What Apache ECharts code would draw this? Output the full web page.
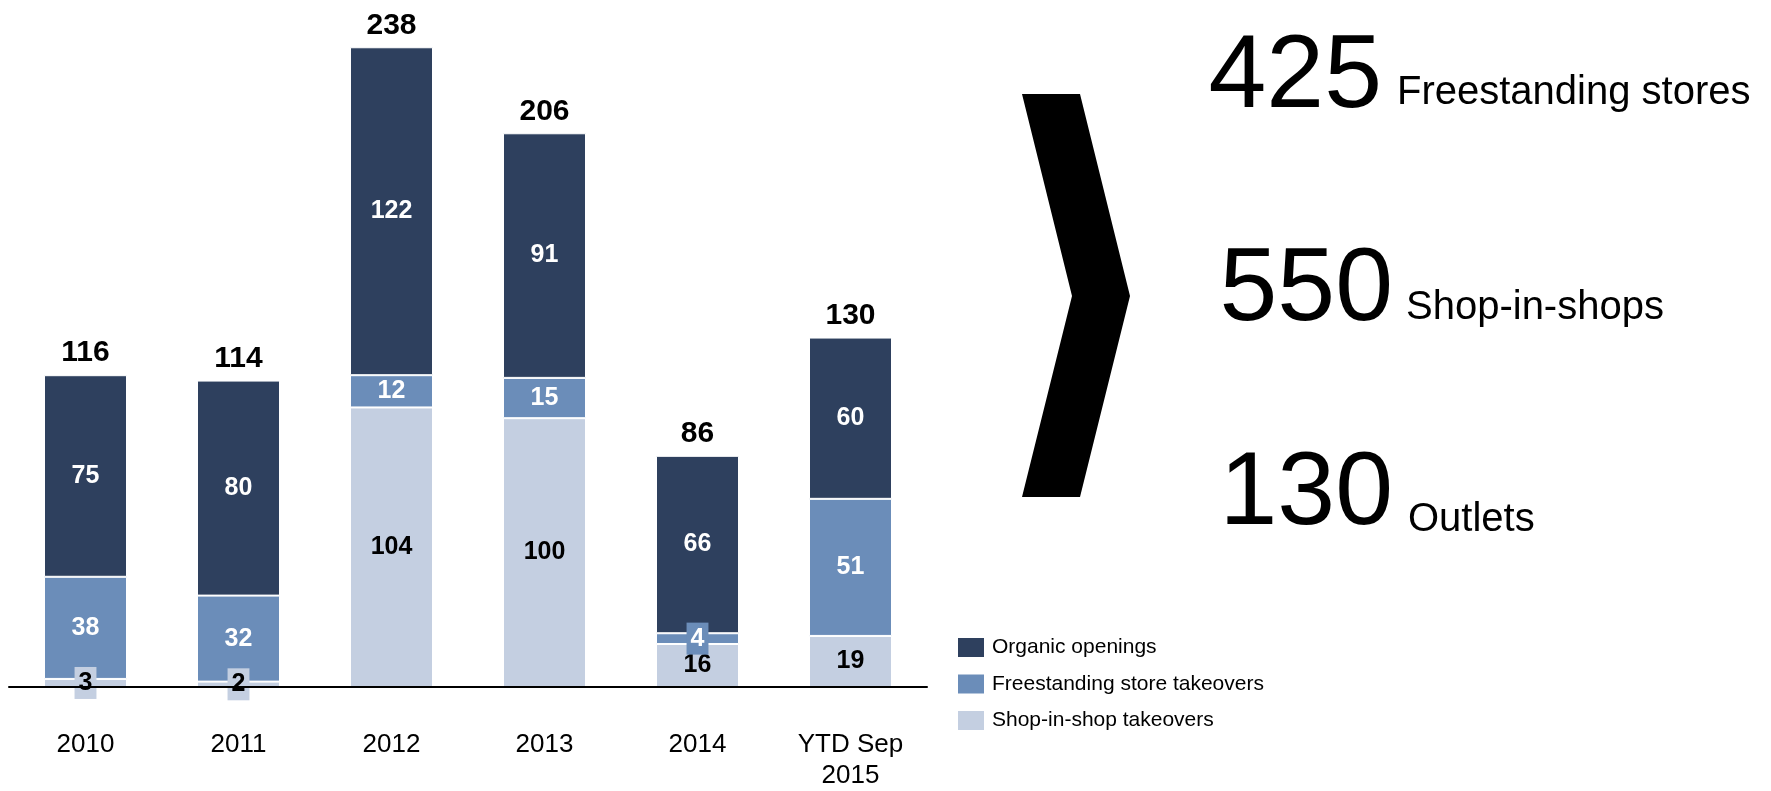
<!DOCTYPE html>
<html>
<head>
<meta charset="utf-8">
<script src="https://cdn.jsdelivr.net/npm/echarts@6/dist/echarts.min.js"></script>
<style>
  html, body { margin: 0; padding: 0; background: #ffffff; }
  #chart { width: 1771px; height: 791px; }
</style>
</head>
<body>
<div id="chart"></div>
<script>
// Store openings by year, split by type of opening
const categories = ['2010', '2011', '2012', '2013', '2014', 'YTD Sep\n2015'];
const shopInShopTakeovers = [3, 2, 104, 100, 16, 19];
const freestandingTakeovers = [38, 32, 12, 15, 4, 51];
const organicOpenings = [75, 80, 122, 91, 66, 60];
const totals = [116, 114, 238, 206, 86, 130];

// Resulting store network
const networkCounts = ['425', '550', '130'];
const networkLabels = ['Freestanding stores', 'Shop-in-shops', 'Outlets'];

const FONT = '"Liberation Sans", Arial, Helvetica, sans-serif';
const C_DARK = '#2e405e';
const C_MID = '#6b8db9';
const C_LIGHT = '#c4cfe1';

// Segments too thin for their label get a boxed label in the segment colour
function segmentData(values, fill, textColor) {
  return values.map(v => {
    if (v >= 8) return v;
    return {
      value: v,
      label: {
        backgroundColor: fill,
        padding: [4, 4, 3, 4],
        color: textColor
      }
    };
  });
}

function segmentSeries(name, values, fill, textColor) {
  return {
    name: name,
    type: 'bar',
    stack: 'openings',
    barWidth: 83,
    data: segmentData(values, fill, textColor),
    itemStyle: { color: fill, borderColor: '#ffffff', borderWidth: 1 },
    label: {
      show: true,
      position: 'inside',
      color: textColor,
      fontFamily: FONT,
      fontWeight: 'bold',
      fontSize: 25
    },
    emphasis: { disabled: true }
  };
}

const chart = echarts.init(document.getElementById('chart'), null, { renderer: 'canvas' });

const graphics = [
  {
    type: 'polygon',
    shape: {
      points: [[1022, 94], [1080, 94], [1130, 296], [1080, 497], [1022, 497], [1072, 296]]
    },
    style: { fill: '#000000' }
  }
];

const countRight = [1382, 1393, 1393];
const countMid = [78, 291, 495];
const labelLeft = [1397, 1406, 1408];
const labelMid = [93, 308, 520];
networkCounts.forEach((txt, i) => {
  graphics.push({
    type: 'text',
    x: countRight[i],
    y: countMid[i],
    style: {
      text: txt,
      font: '104px ' + FONT,
      fill: '#000000',
      align: 'right',
      verticalAlign: 'middle'
    }
  });
  graphics.push({
    type: 'text',
    x: labelLeft[i],
    y: labelMid[i],
    style: {
      text: networkLabels[i],
      font: '40px ' + FONT,
      fill: '#000000',
      align: 'left',
      verticalAlign: 'middle'
    }
  });
});

chart.setOption({
  animation: false,
  backgroundColor: '#ffffff',
  grid: { left: 9, right: 844, top: 15, bottom: 98, containLabel: false },
  legend: {
    orient: 'vertical',
    left: 951,
    top: 631,
    icon: 'rect',
    itemWidth: 28,
    itemHeight: 21,
    itemGap: 13.5,
    selectedMode: false,
    data: ['Organic openings', 'Freestanding store takeovers', 'Shop-in-shop takeovers'],
    textStyle: { fontFamily: FONT, fontSize: 21, color: '#000000', padding: [0, 0, 0, 2] }
  },
  xAxis: {
    type: 'category',
    data: categories,
    axisLine: { show: true, lineStyle: { color: '#000000', width: 2 } },
    axisTick: { show: false },
    axisLabel: {
      color: '#000000',
      fontFamily: FONT,
      fontSize: 26,
      lineHeight: 31,
      margin: 42,
      interval: 0
    },
    z: 5
  },
  yAxis: {
    type: 'value',
    min: 0,
    max: 250,
    show: false,
    splitLine: { show: false }
  },
  series: [
    segmentSeries('Shop-in-shop takeovers', shopInShopTakeovers, C_LIGHT, '#000000'),
    segmentSeries('Freestanding store takeovers', freestandingTakeovers, C_MID, '#ffffff'),
    segmentSeries('Organic openings', organicOpenings, C_DARK, '#ffffff'),
    {
      name: 'Total',
      type: 'bar',
      barWidth: 83,
      barGap: '-100%',
      data: totals,
      itemStyle: { color: 'rgba(0,0,0,0)' },
      label: {
        show: true,
        position: 'top',
        distance: 7,
        color: '#000000',
        fontFamily: FONT,
        fontWeight: 'bold',
        fontSize: 30
      },
      emphasis: { disabled: true },
      z: 1
    }
  ],
  graphic: graphics
});
</script>
</body>
</html>
